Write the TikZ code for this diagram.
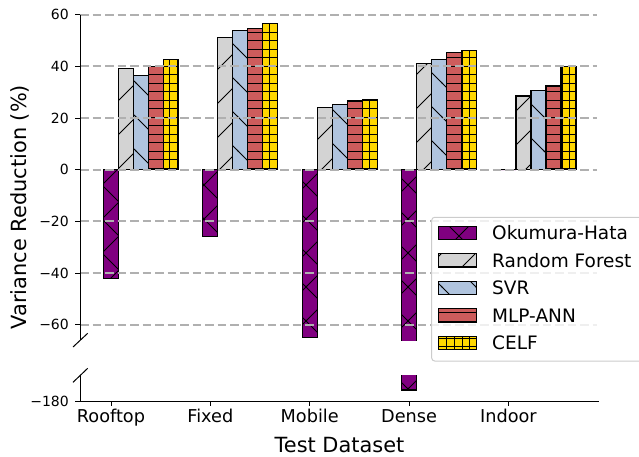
\documentclass[tikz,border=0pt]{standalone}
\usepackage{fontspec}
\setmainfont{DejaVu Sans}
\usetikzlibrary{patterns}
\pgfdeclarepatternformonly{hatchne}{\pgfpoint{-1pt}{-1pt}}{\pgfpoint{35pt}{35pt}}{\pgfpoint{34pt}{34pt}}{%
  \pgfsetlinewidth{0.9pt}\pgfpathmoveto{\pgfpoint{-1pt}{-1pt}}\pgfpathlineto{\pgfpoint{35pt}{35pt}}\pgfusepath{stroke}}
\pgfdeclarepatternformonly{hatchnw}{\pgfpoint{-1pt}{-1pt}}{\pgfpoint{35pt}{35pt}}{\pgfpoint{34pt}{34pt}}{%
  \pgfsetlinewidth{0.9pt}\pgfpathmoveto{\pgfpoint{-1pt}{35pt}}\pgfpathlineto{\pgfpoint{35pt}{-1pt}}\pgfusepath{stroke}}
\pgfdeclarepatternformonly{hatchx}{\pgfpoint{-1pt}{-1pt}}{\pgfpoint{35pt}{35pt}}{\pgfpoint{34pt}{34pt}}{%
  \pgfsetlinewidth{0.9pt}\pgfpathmoveto{\pgfpoint{-1pt}{-1pt}}\pgfpathlineto{\pgfpoint{35pt}{35pt}}%
  \pgfpathmoveto{\pgfpoint{-1pt}{35pt}}\pgfpathlineto{\pgfpoint{35pt}{-1pt}}\pgfusepath{stroke}}
\pgfdeclarepatternformonly{hatchh}{\pgfpoint{-1pt}{-1pt}}{\pgfpoint{9.5pt}{9.5pt}}{\pgfpoint{8.5pt}{8.5pt}}{%
  \pgfsetlinewidth{0.9pt}\pgfpathmoveto{\pgfpoint{-1pt}{0pt}}\pgfpathlineto{\pgfpoint{9.5pt}{0pt}}\pgfusepath{stroke}}
\pgfdeclarepatternformonly{hatchplus}{\pgfpoint{-1pt}{-1pt}}{\pgfpoint{9pt}{9.5pt}}{\pgfpoint{7.7pt}{8.5pt}}{%
  \pgfsetlinewidth{0.9pt}\pgfpathmoveto{\pgfpoint{-1pt}{0pt}}\pgfpathlineto{\pgfpoint{9pt}{0pt}}%
  \pgfpathmoveto{\pgfpoint{0pt}{-1pt}}\pgfpathlineto{\pgfpoint{0pt}{9.5pt}}\pgfusepath{stroke}}
\definecolor{ohc}{HTML}{800080}
\definecolor{rfc}{HTML}{D3D3D3}
\definecolor{svrc}{HTML}{B0C4DE}
\definecolor{mlpc}{HTML}{CD5C5C}
\definecolor{celfc}{HTML}{FFD700}
\definecolor{gridc}{HTML}{B0B0B0}
\definecolor{legc}{HTML}{CCCCCC}
\tikzset{
  baredge/.style={draw=black,line width=1.2pt},
  gridline/.style={draw=gridc,line width=1.8pt,dash pattern=on 8.5pt off 4pt},
  spine/.style={draw=black,line width=1pt},
  ytl/.style={font=\fontsize{14}{16}\selectfont,anchor=base east,inner sep=0pt},
  xtl/.style={font=\fontsize{17.7}{20}\selectfont,anchor=base,inner sep=0pt},
  axlab/.style={font=\fontsize{20.9}{24}\selectfont,anchor=base,inner sep=0pt},
  legtext/.style={font=\fontsize{18.5}{21}\selectfont,anchor=west,inner sep=0pt},
}
\begin{document}
\begin{tikzpicture}[x=1pt,y=-1pt]
\useasboundingbox (0,0) rectangle (639,457);
% bars (upper axes), clipped at the axis break
\begin{scope}
\clip (0,0) rectangle (639,340.3);
\foreach \i/\a/\b/\c/\d/\e in {0/-42.2/39.1/36.6/39.8/42.6, 1/-25.8/51.2/53.8/54.7/56.6, 2/-65/24.0/25.3/26.6/27.3, 3/-72/41.2/42.8/45.5/46.2, 4/0/28.5/30.8/32.4/40.1}{
  \pgfmathsetmacro\t{111+99.35*\i}
  \foreach \k/\v/\col/\pat in {0/\a/ohc/hatchx, 1/\b/rfc/hatchne, 2/\c/svrc/hatchnw, 3/\d/mlpc/hatchh, 4/\e/celfc/hatchplus}{
    \pgfmathsetmacro\xl{\t-7.5+15*\k}
    \pgfmathsetmacro\xr{\xl+15}
    \pgfmathsetmacro\yt{169.7-2.583*\v}
    \fill[\col] (\xl,169.7) rectangle (\xr,\yt);
    \fill[pattern=\pat,pattern color=black] (\xl,169.7) rectangle (\xr,\yt);
    \draw[baredge] (\xl,169.7) rectangle (\xr,\yt);
  }
}
\end{scope}
% lower part of Dense Okumura-Hata bar
\fill[ohc] (401.3,375) rectangle (416.3,390);
\fill[pattern=hatchx,pattern color=black] (401.3,375) rectangle (416.3,390);
\draw[baredge] (401.3,375) -- (401.3,390) -- (416.3,390) -- (416.3,375);
% grid
\foreach \v in {60,40,20,0,-20,-40,-60}{
  \draw[gridline] (80,{169.7-2.583*\v}) -- (597,{169.7-2.583*\v});
}
% spines
\draw[spine] (80,14.7) -- (80,340);
\draw[spine] (80,375) -- (80,401) -- (599,401);
\draw[spine] (73,347) -- (87.7,333.3);
\draw[spine] (73,382.3) -- (87.7,368.3);
% y ticks and labels
\foreach \v/\lab in {60/60,40/40,20/20,0/0,-20/−20,-40/−40,-60/−60}{
  \draw[spine] (75,{169.7-2.583*\v}) -- (80,{169.7-2.583*\v});
  \node[ytl] (yt\v) at (69,{169.7-2.583*\v+5.1}) {\lab};
}
\draw[spine] (75,401) -- (80,401);
\node[ytl] (yt180) at (69,406.1) {−180};
% x ticks and labels
\foreach \i/\lab in {0/Rooftop,1/Fixed,2/Mobile,3/Dense,4/Indoor}{
  \pgfmathsetmacro\t{111+99.35*\i}
  \draw[spine] (\t,401) -- (\t,405.5);
  \node[xtl] (xt\i) at (\t,422.7) {\lab};
}
% axis labels
\node[axlab] (xlabel) at (339.5,452.5) {Test Dataset};
\node[axlab,rotate=90] (ylabel) at (26.7,207) {Variance Reduction (\%)};
% legend
\draw[draw=legc,fill=white,fill opacity=0.8,line width=1pt,rounded corners=3pt] (431.7,217.3) rectangle (650,361);
\foreach \c/\col/\pat/\lab [count=\n] in {233/ohc/hatchx/Okumura-Hata, 260.3/rfc/hatchne/Random Forest, 288/svrc/hatchnw/SVR, 315.3/mlpc/hatchh/MLP-ANN, 343/celfc/hatchplus/CELF}{
  \fill[\col] (438.3,\c-6.7) rectangle (476.7,\c+6.7);
  \fill[pattern=\pat,pattern color=black] (438.3,\c-6.7) rectangle (476.7,\c+6.7);
  \draw[baredge] (438.3,\c-6.7) rectangle (476.7,\c+6.7);
  \node[legtext] (leg\n) at (492,\c) {\lab};
}
\end{tikzpicture}
\end{document}
